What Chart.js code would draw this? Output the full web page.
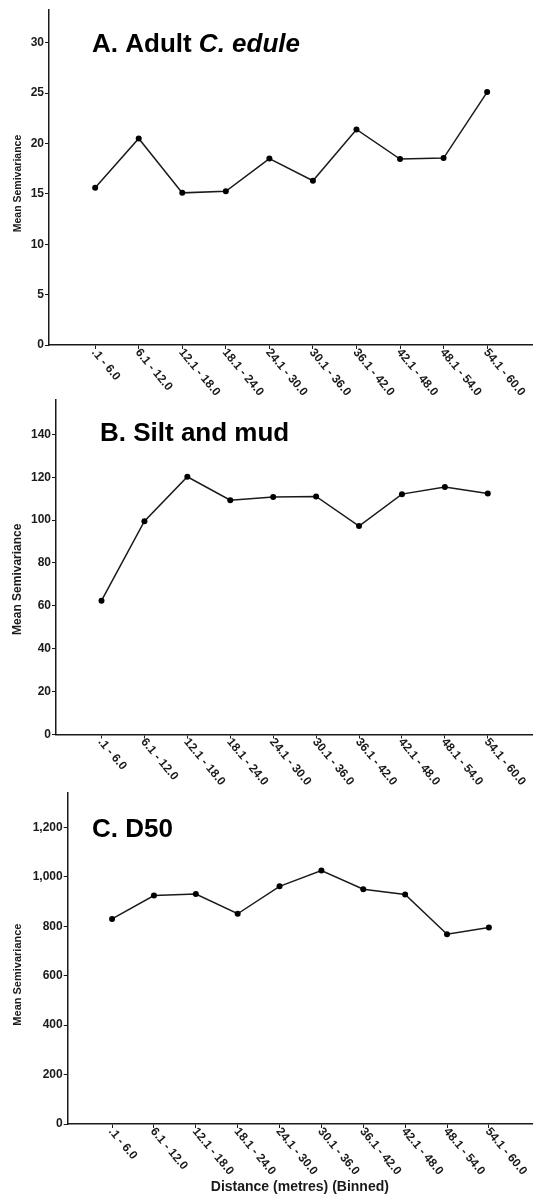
<!DOCTYPE html>
<html>
<head>
<meta charset="utf-8">
<script src="https://cdn.jsdelivr.net/npm/chart.js@4.4.1/dist/chart.umd.min.js"></script>
<style>
  html, body { margin: 0; padding: 0; background: #fff; }
  body { width: 536px; height: 1198px; position: relative; overflow: hidden; }
  canvas { position: absolute; left: 0; display: block; }
</style>
</head>
<body>
<canvas id="plotA" width="536" height="400" style="top:0px"></canvas>
<canvas id="plotB" width="536" height="410" style="top:385px"></canvas>
<canvas id="plotC" width="536" height="413" style="top:785px"></canvas>
<script>
// distance bins (x axis)
const binLabels = ['.1 - 6.0', '6.1 - 12.0', '12.1 - 18.0', '18.1 - 24.0', '24.1 - 30.0',
                   '30.1 - 36.0', '36.1 - 42.0', '42.1 - 48.0', '48.1 - 54.0', '54.1 - 60.0'];

// mean semivariance per bin
const adultCedule = [15.6, 20.5, 15.1, 15.25, 18.5, 16.3, 21.4, 18.45, 18.55, 25.1];
const siltMud = [62.4, 99.5, 120.2, 109.3, 110.8, 111.0, 97.2, 112.1, 115.4, 112.4];
const d50 = [830, 925, 931, 851, 962, 1026, 950, 929, 768, 795];

const FONT = '"Liberation Sans", Arial, Helvetica, sans-serif';
const INK = '#1a1a1a';

// big bold panel heading drawn inside the plot area
const panelTitle = {
    id: 'panelTitle',
    afterDraw(chart, args, opts) {
        const ctx = chart.ctx;
        ctx.save();
        ctx.fillStyle = '#000';
        ctx.textBaseline = 'alphabetic';
        let x = opts.x;
        opts.parts.forEach(p => {
            ctx.font = (p.italic ? 'italic ' : '') + 'bold ' + opts.size + 'px ' + FONT;
            ctx.fillText(p.text, x, opts.y);
            x += ctx.measureText(p.text).width;
        });
        ctx.restore();
    }
};

// vertical axis title, sits a bit below the middle of the axis like the original
const yAxisTitle = {
    id: 'yAxisTitle',
    afterDraw(chart, args, opts) {
        const ctx = chart.ctx;
        const area = chart.chartArea;
        ctx.save();
        ctx.font = 'bold ' + opts.size + 'px ' + FONT;
        ctx.fillStyle = INK;
        ctx.textAlign = 'center';
        ctx.textBaseline = 'middle';
        ctx.translate(opts.x, (area.top + area.bottom) / 2 + opts.shift);
        ctx.rotate(-Math.PI / 2);
        ctx.fillText('Mean Semivariance', 0, 0);
        ctx.restore();
    }
};

// slanted bin labels, starting at the tick and running down to the right
const binTickLabels = {
    id: 'binTickLabels',
    afterDraw(chart) {
        const ctx = chart.ctx;
        const xs = chart.scales.x;
        const bottom = chart.chartArea.bottom;
        ctx.save();
        ctx.font = 'bold 12px ' + FONT;
        ctx.fillStyle = INK;
        ctx.textAlign = 'left';
        ctx.textBaseline = 'middle';
        binLabels.forEach((lab, i) => {
            ctx.save();
            ctx.translate(xs.getPixelForValue(i + 1), bottom + 7);
            ctx.rotate(50 * Math.PI / 180);
            ctx.fillText(lab, -2, 0);
            ctx.restore();
        });
        ctx.restore();
    }
};

function makePanel(id, values, cfg) {
    return new Chart(document.getElementById(id), {
        type: 'line',
        data: {
            datasets: [{
                data: values.map((v, i) => ({ x: i + 1, y: v })),
                borderColor: INK,
                borderWidth: 1.5,
                pointRadius: 3,
                pointBackgroundColor: '#000',
                pointBorderWidth: 0,
                tension: 0
            }]
        },
        options: {
            responsive: false,
            animation: false,
            layout: { padding: { top: cfg.top, right: 1, left: 0, bottom: 0 } },
            plugins: {
                legend: { display: false },
                tooltip: { enabled: false },
                panelTitle: cfg.title,
                yAxisTitle: cfg.yTitle
            },
            scales: {
                x: {
                    type: 'linear',
                    min: -0.06,
                    max: 11.03,
                    afterBuildTicks: s => { s.ticks = binLabels.map((_, i) => ({ value: i + 1 })); },
                    afterFit: s => { s.height = cfg.xHeight; },
                    grid: { drawOnChartArea: false, drawTicks: true, tickLength: 4, color: INK, lineWidth: 1 },
                    border: { display: true, color: INK, width: 1.5 },
                    ticks: { display: false },
                    title: {
                        display: !!cfg.xTitle,
                        text: cfg.xTitle || '',
                        color: INK,
                        font: { family: FONT, size: 14, weight: 'bold' },
                        padding: { top: 0, bottom: 2 }
                    }
                },
                y: {
                    min: 0,
                    max: cfg.yMax,
                    afterFit: s => { s.width = cfg.yWidth; },
                    grid: { drawOnChartArea: false, drawTicks: true, tickLength: 4, color: INK, lineWidth: 1 },
                    border: { display: true, color: INK, width: 1.5 },
                    ticks: {
                        stepSize: cfg.step,
                        includeBounds: false,
                        padding: 1,
                        color: INK,
                        font: { family: FONT, size: 12, weight: 'bold' }
                    }
                }
            }
        },
        plugins: [panelTitle, yAxisTitle, binTickLabels]
    });
}

makePanel('plotA', adultCedule, {
    top: 10, xHeight: 55, yWidth: 49, yMax: 33.25, step: 5,
    yTitle: { x: 18, shift: 6, size: 10.5 },
    title: { x: 92, y: 52, size: 26, parts: [{ text: 'A. Adult ' }, { text: 'C. edule', italic: true }] }
});

makePanel('plotB', siltMud, {
    top: 15, xHeight: 60.5, yWidth: 56, yMax: 156, step: 20,
    yTitle: { x: 17.5, shift: 12, size: 12 },
    title: { x: 100, y: 441 - 385, size: 26, parts: [{ text: 'B. Silt and mud' }] }
});

makePanel('plotC', d50, {
    top: 6, xHeight: 74, yWidth: 67.7, yMax: 1339, step: 200,
    yTitle: { x: 17.5, shift: 16, size: 11 },
    xTitle: 'Distance (metres) (Binned)',
    title: { x: 92, y: 837 - 785, size: 26, parts: [{ text: 'C. D50' }] }
});
</script>
</body>
</html>
